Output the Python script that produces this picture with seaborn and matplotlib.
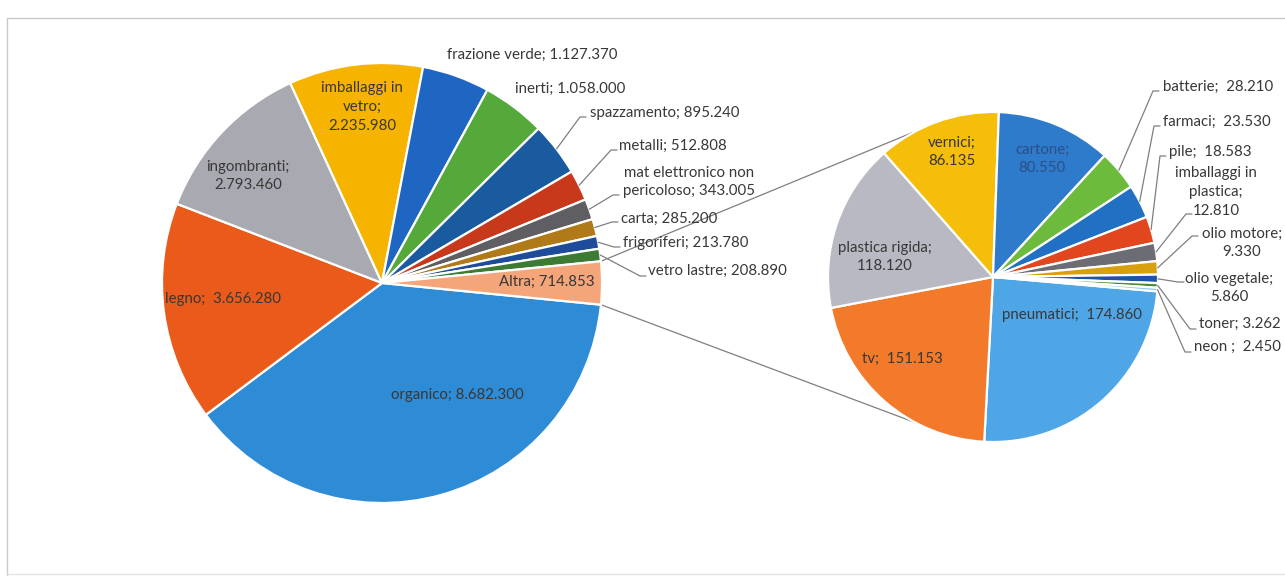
import matplotlib
matplotlib.use("Agg")
import matplotlib.pyplot as plt
import seaborn as sns
import numpy as np

# --- data -------------------------------------------------------------
main_labels = ["organico", "legno", "ingombranti", "imballaggi in vetro",
               "frazione verde", "inerti", "spazzamento", "metalli",
               "mat elettronico non pericoloso", "carta", "frigoriferi",
               "vetro lastre"]
main_values = [8682300, 3656280, 2793460, 2235980, 1127370, 1058000,
               895240, 512808, 343005, 285200, 213780, 208890]

other_name = "Altra"
other_labels = ["pneumatici", "tv", "plastica rigida", "vernici", "cartone",
                "batterie", "farmaci", "pile", "imballaggi in plastica",
                "olio motore", "olio vegetale", "toner", "neon "]
other_values = [174860, 151153, 118120, 86135, 80550, 28210, 23530, 18583,
                12810, 9330, 5860, 3262, 2450]

# --- style ------------------------------------------------------------
sns.set_theme(style="white")
plt.rcParams["font.family"] = ["Lato", "DejaVu Sans"]

main_colors = sns.color_palette(["#2E8BD6", "#EA5A1A", "#A9A9B1", "#F6B400",
                                 "#1F66C2", "#55A83A", "#1A5A9E", "#C8391C",
                                 "#5E5E63", "#B07A18", "#1E4C9A", "#3D7A33",
                                 "#F4A57A"])
other_colors = sns.color_palette(["#4FA6E6", "#F37A2A", "#B9B9C4", "#F5BE0A",
                                  "#2E7BCB", "#6DBB3C", "#2170C4", "#E2461E",
                                  "#6C6C74", "#D9A00E", "#1F52A8", "#4C8A38",
                                  "#8EC3EC"])

TEXT = "#383838"
LEADER = "#7f7f7f"
FS = 10.8

W, H = 1285, 576
fig = plt.figure(figsize=(W / 100, H / 100), dpi=100)
ax = fig.add_axes([0, 0, 1, 1])


def P(x, y):
    """pixel position measured from the top-left corner -> data coords"""
    return (x, H - y)


def fmt(v):
    return f"{v:,}".replace(",", ".")


# --- pies -------------------------------------------------------------
altra_value = sum(other_values)
left_vals = main_values + [altra_value]
left_names = main_labels + [other_name]
altra_share = altra_value / sum(left_vals)

L_C, L_R = P(382, 283), 220
R_C, R_R = P(993, 277), 165

wedge_kw = dict(edgecolor="white", linewidth=1.6)
lw_wedges, _ = ax.pie(left_vals, colors=main_colors, counterclock=False,
                      startangle=-altra_share * 180, center=L_C, radius=L_R,
                      wedgeprops=wedge_kw)
rw_wedges, _ = ax.pie(other_values, colors=other_colors, counterclock=False,
                      startangle=-5, center=R_C, radius=R_R,
                      wedgeprops=wedge_kw)


def edge_point(w, c, r):
    a = np.deg2rad((w.theta1 + w.theta2) / 2)
    return (c[0] + r * np.cos(a), c[1] + r * np.sin(a))


# connector lines from the "Altra" wedge to the secondary pie
aw = lw_wedges[-1]
for th_l, th_r in [(aw.theta2, 118), (aw.theta1, -118)]:
    p0 = (L_C[0] + L_R * np.cos(np.deg2rad(th_l)), L_C[1] + L_R * np.sin(np.deg2rad(th_l)))
    p1 = (R_C[0] + R_R * np.cos(np.deg2rad(th_r)), R_C[1] + R_R * np.sin(np.deg2rad(th_r)))
    ax.plot([p0[0], p1[0]], [p0[1], p1[1]], color=LEADER, lw=0.9, zorder=0)

# --- labels -----------------------------------------------------------
# text shape: how the name wraps and what separates it from the value
wraps = {
    "imballaggi in vetro": ("imballaggi in\nvetro", ";\n"),
    "ingombranti": ("ingombranti", ";\n"),
    "legno": ("legno", ";  "),
    "mat elettronico non pericoloso": ("mat elettronico non\npericoloso", "; "),
    "vernici": ("vernici", ";\n"),
    "cartone": ("cartone", ";\n"),
    "plastica rigida": ("plastica rigida", ";\n"),
    "pneumatici": ("pneumatici", ";  "),
    "tv": ("tv", ";  "),
    "imballaggi in plastica": ("imballaggi in\nplastica", ";\n"),
    "olio motore": ("olio motore", ";\n"),
    "olio vegetale": ("olio vegetale", ";\n"),
    "batterie": ("batterie", ";  "),
    "farmaci": ("farmaci", ";  "),
    "pile": ("pile", ";  "),
    "toner": ("toner", "; "),
    "neon ": ("neon ", ";  "),
}

# name -> (x, y, ha, leader anchor or None), pixels from the top-left corner
left_layout = {
    "organico": (457, 395, "center", None),
    "legno": (165, 299, "left", None),
    "ingombranti": (248, 176, "center", None),
    "imballaggi in vetro": (362, 107, "center", None),
    "frazione verde": (447, 55, "left", None),
    "inerti": (515, 89, "left", None),
    "spazzamento": (590, 113, "left", (580, 117)),
    "metalli": (619, 146, "left", (611, 150)),
    "mat elettronico non pericoloso": (689, 182, "center", (613, 195)),
    "carta": (621, 219, "left", (612, 222)),
    "frigoriferi": (623, 243, "left", (614, 247)),
    "vetro lastre": (648, 271, "left", (640, 276)),
    "Altra": (547, 282, "center", None),
}
right_layout = {
    "pneumatici": (1072, 315, "center", None),
    "tv": (902, 359, "center", None),
    "plastica rigida": (885, 257, "center", None),
    "vernici": (952, 152, "center", None),
    "cartone": (1042, 159, "center", None),
    "batterie": (1163, 87, "left", (1153, 91)),
    "farmaci": (1163, 122, "left", (1154, 126)),
    "pile": (1169, 152, "left", (1160, 156)),
    "imballaggi in plastica": (1216, 192, "center", (1186, 214)),
    "olio motore": (1242, 243, "center", (1192, 236)),
    "olio vegetale": (1229, 288, "center", (1178, 282)),
    "toner": (1199, 324, "left", (1190, 329)),
    "neon ": (1194, 347, "left", (1185, 352)),
}


def draw_labels(names, values, wedges, center, radius, layout):
    for name, val, w in zip(names, values, wedges):
        x, y, ha, anchor = layout[name]
        shown, sep = wraps.get(name, (name, "; "))
        color = "#2d4f86" if name == "cartone" else TEXT
        ax.text(*P(x, y), f"{shown}{sep}{fmt(val)}", ha=ha, va="center",
                fontsize=FS, color=color, linespacing=1.45, zorder=5,
                clip_on=False)
        if anchor is not None:
            p0 = edge_point(w, center, radius)
            p1 = P(*anchor)
            ax.plot([p0[0], p1[0], p1[0] + 6], [p0[1], p1[1], p1[1]],
                    color=LEADER, lw=0.9, zorder=4)


draw_labels(left_names, left_vals, lw_wedges, L_C, L_R, left_layout)
draw_labels(other_labels, other_values, rw_wedges, R_C, R_R, right_layout)

# chart-area border
ax.plot([7, W], [P(7, 18)[1]] * 2, color="#c9c9d2", lw=1.0)
ax.plot([7, 7], [P(7, 18)[1], P(7, 576)[1]], color="#c9c9d2", lw=1.0)
ax.plot([7, W], [P(0, 574)[1]] * 2, color="#e2e2e8", lw=1.0)

ax.set_xlim(0, W)
ax.set_ylim(0, H)
ax.set_aspect("equal", adjustable="box")
ax.axis("off")

fig.savefig("out.png", dpi=100, facecolor="white")
